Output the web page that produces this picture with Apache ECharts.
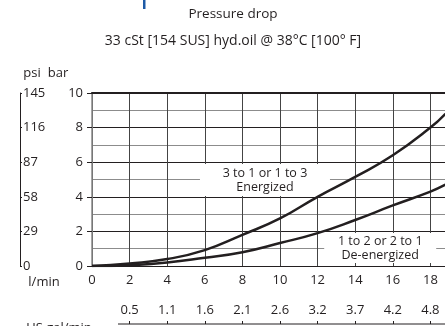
<!DOCTYPE html>
<html lang="en">
<head>
    <meta charset="UTF-8">
    <title>Pressure drop</title>
    <script src="https://cdn.jsdelivr.net/npm/echarts@6/dist/echarts.min.js"></script>
    <style>
        html, body { margin: 0; padding: 0; background: #fff; }
    </style>
</head>
<body>

<div id="main" style="width: 445px;height:326px;"></div>
<script type="text/javascript">
    // flow in l/min and pressure drop in bar
    var flowLpm = [0, 2, 4, 6, 8, 10, 12, 14, 16, 18, 18.8];
    var energized = [0, 0.15, 0.4, 0.92, 1.8, 2.75, 4.0, 5.15, 6.4, 8.0, 8.8];
    var deEnergized = [0, 0.05, 0.2, 0.48, 0.8, 1.33, 1.9, 2.66, 3.5, 4.3, 4.7];

    // US gal/min labels under 2, 4, ... 18 l/min
    var galLabels = ['0.5', '1.1', '1.6', '2.1', '2.6', '3.2', '3.7', '4.2', '4.8'];
    var galAt = galLabels.map(function (g, i) { return (i + 1) * 2; });

    var energizedNote = '3 to 1 or 1 to 3\nEnergized';
    var deEnergizedNote = '1 to 2 or 2 to 1\nDe-energized';

    var ink = '#231f20';
    var font = 'Open Sans';

    var chart = echarts.init(document.getElementById('main'));

    function pairs(ys) {
        return flowLpm.map(function (x, i) {
            return [x, ys[i]];
        });
    }

    function note(text, coord, size) {
        return {
            symbol: 'rect',
            symbolSize: size,
            itemStyle: { color: '#fff' },
            label: {
                show: true,
                position: 'inside',
                formatter: text,
                color: ink,
                fontFamily: font,
                fontSize: 12.5,
                lineHeight: 14
            },
            data: [{ coord: coord }]
        };
    }

    function text(str, x, y, size) {
        return {
            type: 'text',
            x: x, y: y,
            style: { text: str, align: 'center', verticalAlign: 'middle', fill: ink, fontSize: size || 13, fontFamily: font }
        };
    }

    var option = {
        animation: false,
        textStyle: { fontFamily: font },
        grid: { left: 92, right: -23, top: 93, bottom: 60, outerBoundsMode: 'none', containLabel: false },
        xAxis: [{
            type: 'value',
            min: 0, max: 20, interval: 2,
            axisLine: { show: true, onZero: false, lineStyle: { color: ink, width: 1 } },
            axisTick: { show: false },
            axisLabel: { color: ink, fontSize: 13, margin: 8 },
            splitLine: { show: true, lineStyle: { color: '#444', width: 1 } }
        }, {
            type: 'value',
            position: 'bottom',
            offset: 58,
            min: 0, max: 20, interval: 2,
            axisLine: { show: false, onZero: false },
            axisTick: { show: true, inside: true, length: 3, customValues: galAt, lineStyle: { color: ink } },
            axisLabel: {
                inside: true, margin: 7, color: ink, fontSize: 13,
                customValues: galAt,
                formatter: function (v) {
                    return galLabels[v / 2 - 1] || '';
                }
            },
            splitLine: { show: false }
        }, {
            type: 'value',
            position: 'top',
            min: 0, max: 20,
            axisLine: { show: true, onZero: false, lineStyle: { color: ink, width: 2 } },
            axisTick: { show: false },
            axisLabel: { show: false },
            splitLine: { show: false }
        }],
        yAxis: [{
            type: 'value',
            min: 0, max: 10, interval: 2,
            axisLine: { show: true, onZero: false, lineStyle: { color: '#888', width: 1.5 } },
            axisTick: { show: true, length: 5, lineStyle: { color: ink } },
            axisLabel: { color: ink, fontSize: 13, margin: 9 },
            splitLine: { show: true, lineStyle: { color: ink, width: 1 } },
            minorTick: { show: false, splitNumber: 2 },
            minorSplitLine: { show: true, lineStyle: { color: '#8c8c8c', width: 1 } }
        }, {
            type: 'value',
            position: 'left',
            offset: 72,
            min: 0, max: 145, interval: 29,
            axisLine: { show: true, onZero: false, lineStyle: { color: ink, width: 1 } },
            axisTick: { show: true, inside: true, length: 2, lineStyle: { color: ink } },
            axisLabel: { inside: true, margin: 3, color: ink, fontSize: 13 },
            splitLine: { show: false }
        }],
        series: [{
            type: 'line',
            name: 'Energized',
            data: pairs(energized),
            smooth: true,
            symbol: 'none',
            lineStyle: { color: ink, width: 2.5 },
            z: 5,
            markPoint: note(energizedNote, [9.2, 4.97], [130, 32])
        }, {
            type: 'line',
            name: 'De-energized',
            data: pairs(deEnergized),
            smooth: true,
            symbol: 'none',
            lineStyle: { color: ink, width: 2.5 },
            z: 5,
            markPoint: note(deEnergizedNote, [15.33, 1.04], [112, 30])
        }],
        graphic: [{
            type: 'rect',
            shape: { x: 143, y: 0, width: 2.5, height: 9 },
            style: { fill: '#1d5aa6' }
        },
            text('Pressure drop', 233, 14, 13.5),
            text('33 cSt [154 SUS] hyd.oil @ 38°C [100° F]', 233, 41, 14),
            text('psi', 32, 73),
            text('bar', 58, 73),
            text('l/min', 44, 282),
            text('US gal/min', 59, 328),
        {
            type: 'line',
            shape: { x1: 118, y1: 324, x2: 445, y2: 324 },
            style: { stroke: ink, lineWidth: 1 }
        }]
    };

    chart.setOption(option);
</script>
</body>
</html>
